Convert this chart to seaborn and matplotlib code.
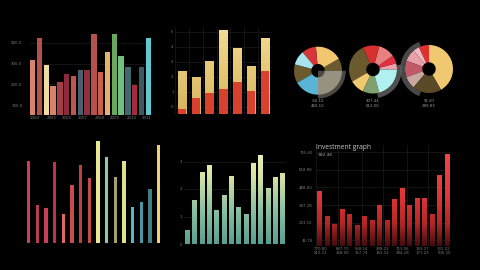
import numpy as np
import pandas as pd
import matplotlib
matplotlib.use("Agg")
import matplotlib.pyplot as plt
import seaborn as sns
from matplotlib.colors import LinearSegmentedColormap

sns.set_theme(style="dark", rc={"axes.facecolor": "black", "figure.facecolor": "black",
                                "savefig.facecolor": "black", "axes.grid": False})
plt.rcParams['font.family'] = ['DejaVu Sans']

# ---------------- data ----------------
# panel 1 (top-left)
p1_cats = [f"c{i:02d}" for i in range(18)]
p1_values = [318, 423, 294, 192, 213, 250, 242, 269, 269, 440, 260, 355, 440, 337, 285, 197, 285, 421]
p1_colors = ["#d9826a", "#b5514a", "#f0dca0", "#d9826a", "#a83c46", "#8e2a3e", "#c0564f", "#4a6070",
             "#90303e", "#b5514a", "#c8604a", "#e5b070", "#6aa860", "#70c080", "#3e6a6e", "#a8283e",
             "#3e5a60", "#60c8d0"]
p1_yticks = [100, 200, 300, 400]
p1_yticklabels = ["100.0", "200.0", "300.0", "400.0"]
p1_xtick_pos = [0.3, 2.8, 5.0, 7.4, 9.8, 12.1, 14.6, 16.7]
p1_xticklabels = ["2004", "2005", "2006", "2007", "2008", "2009", "2010", "2011"]

# panel 2 (top-middle, stacked)
p2_cats = [f"s{i}" for i in range(7)]
p2_total = [2.42, 1.98, 3.08, 5.13, 3.92, 2.71, 4.58]
p2_red = [-0.11, 0.57, 0.90, 1.17, 1.65, 1.06, 2.42]
p2_ticks = [0, 1, 2, 3, 4, 5]
p2_base = -0.47

# panel 3 (donuts)
d1_sizes = [30, 65, 35, 35, 45, 60, 90]
d1_colors = ["#6b5a2e", "#f2c66e", "#d8353a", "#a8e4ec", "#6b5a2e", "#5ab4d6", "#8a8474"]
d2_sizes = [15, 20, 40, 40, 95, 35, 40, 75]
d2_colors = ["#f0a0a8", "#e03040", "#e88080", "#d83030", "#6b5a2e", "#f0c870", "#80a070", "#b0f0f0"]
d3_sizes = [150, 25, 15, 30, 40, 30, 70]
d3_colors = ["#f0c870", "#e03030", "#f0b8c0", "#e8a0a8", "#c05a68", "#c8a8a0", "#5a4a28"]
d_highlight = [(-90, 90), (-80, 90), (110, 140)]   # (start angle, span) of highlighted arc
d_labels = [("-60.10", "460.10"), ("307.44", "612.00"), ("91.87", "289.83")]

# panel 4 (bottom-left thin bars)
p4_cats = [f"t{i:02d}" for i in range(16)]
p4_values = [247, 114, 106, 245, 88, 174, 235, 196, 307, 260, 200, 247, 109, 125, 162, 296]
p4_colors = ["#c8405a", "#b83c50", "#c84058", "#c03048", "#e06a5a", "#c84c4a", "#c04040", "#c84848",
             "#e8e890", "#90c8a0", "#a0a070", "#e0e088", "#50b8d0", "#4898a8", "#3e8080", "#f0d070"]

# panel 5 (bottom-middle gradient)
p5_cats = [f"g{i:02d}" for i in range(14)]
p5_values = [0.51, 1.60, 2.63, 2.87, 1.24, 1.77, 2.46, 1.33, 1.09, 2.96, 3.25, 2.05, 2.45, 2.58]
p5_ticks = [0, 1, 2, 3]

# panel 6 (investment graph)
p6_cats = [f"i{i:02d}" for i in range(18)]
p6_values = [3.09, 1.70, 1.21, 2.06, 1.79, 1.17, 1.68, 1.43, 2.32, 1.43, 2.62, 3.28, 2.30, 2.72,
             2.68, 1.79, 4.00, 5.19]
p6_yticklabels = ["46.78", "203.52", "347.28", "488.00", "618.80", "755.60"]
p6_xtick_pos = [0.1, 3.0, 5.6, 8.4, 11.1, 13.7, 16.6]
p6_xticklabels = ["770.80\n512.21", "687.70\n268.00", "558.54\n157.74", "308.21\n163.33",
                  "713.56\n384.28", "163.27\n171.23", "331.22\n506.30"]
p6_grid_x = [-0.57, 2.5, 5.7, 8.5, 11.7, 14.5, 17.5]
p6_title = "Investment graph"
p6_sub = "392.46"

# ---------------- figure ----------------
W, H = 480, 270
fig = plt.figure(figsize=(4.8, 2.7), dpi=100)
TICK_C = "#7a7a7a"
GRID_C = "#1c1c1c"
FS = 2.8
NOEDGE = dict(linewidth=0, edgecolor="none")


def add_ax(x0, y0, x1, y1):
    ax = fig.add_axes([x0 / W, 1 - y1 / H, (x1 - x0) / W, (y1 - y0) / H])
    ax.set_facecolor("none")
    for s in ax.spines.values():
        s.set_visible(False)
    ax.tick_params(colors=TICK_C, labelsize=FS, length=0, pad=1)
    return ax


def finish(ax):
    ax.set_xlabel("")
    ax.set_ylabel("")
    leg = ax.get_legend()
    if leg:
        leg.remove()


def gradient_bars(ax, cmap, ylim):
    grad = np.linspace(0, 1, 256).reshape(-1, 1)
    for p in list(ax.patches):
        x0 = p.get_x()
        w = p.get_width()
        im = ax.imshow(grad, cmap=cmap, origin="lower", aspect="auto",
                       extent=[x0, x0 + w, ylim[0], ylim[1]], zorder=2, interpolation="bilinear")
        im.set_clip_path(p)
        p.set_facecolor("none")


# ---- panel 1
ax1 = add_ax(29.3, 32, 151.7, 115)
df1 = pd.DataFrame({"c": p1_cats, "v": p1_values})
sns.barplot(data=df1, x="c", y="v", hue="c", palette=p1_colors, width=0.78, ax=ax1,
            legend=False, saturation=1, **NOEDGE)
ax1.set_xlim(-0.5, 17.5)
ax1.set_ylim(52, 452)
ax1.set_yticks(p1_yticks)
ax1.set_yticklabels(p1_yticklabels)
ax1.set_xticks(p1_xtick_pos)
ax1.set_xticklabels(p1_xticklabels)
ax1.yaxis.grid(True, color=GRID_C, linewidth=0.5)
ax1.set_axisbelow(True)
ax1.tick_params(axis="y", pad=5)
finish(ax1)

# ---- panel 2
ax2 = add_ax(175, 27, 272, 114)
df2 = pd.DataFrame({"c": p2_cats, "tot": [t - p2_base for t in p2_total],
                    "red": [r - p2_base for r in p2_red]})
sns.barplot(data=df2, x="c", y="tot", color="#e8cb7a", width=0.6, ax=ax2, saturation=1, **NOEDGE)
cmap2 = LinearSegmentedColormap.from_list("y2", ["#d6b45e", "#e6c874", "#f2dc96"])
gradient_bars(ax2, cmap2, (0, 5.8))
sns.barplot(data=df2, x="c", y="red", color="#d9412f", width=0.6, ax=ax2, saturation=1,
            zorder=4, **NOEDGE)
ax2.set_xlim(-0.375, 6.5)
ax2.set_ylim(0, 5.8)
ax2.set_yticks([t - p2_base for t in p2_ticks])
ax2.set_yticklabels([str(t) for t in p2_ticks])
ax2.set_xticks([i + 0.5 for i in range(-1, 7)], minor=True)
ax2.set_xticks([])
ax2.grid(True, which="minor", axis="x", color=GRID_C, linewidth=0.5)
ax2.yaxis.grid(True, color=GRID_C, linewidth=0.5)
ax2.set_axisbelow(True)
finish(ax2)

# ---- panel 3 donuts
centers = [(318, 70.7), (373, 69.5), (429, 69)]
R = 24
LIM = 1.35
donuts = [
    (d1_sizes, d1_colors, 0, (0.66, 0.64, 0.58, 0.45), 1.16, 1.16),
    (d2_sizes, d2_colors, 0, (0.42, 0.42, 0.42, 0.75), 1.2, 0.2),
    (d3_sizes, d3_colors, -60, (0.38, 0.38, 0.38, 0.75), 1.2, 0.2),
]
for (cx, cy), (sizes, cols, st, hcol, hr, hw), (hst, hspan), lab in zip(centers, donuts, d_highlight, d_labels):
    s = R * LIM
    axd = add_ax(cx - s, cy - s, cx + s, cy + s)
    axd.pie(sizes, colors=cols, startangle=st, counterclock=True, radius=1,
            wedgeprops=dict(width=0.72, linewidth=0))
    axd.pie([hspan, 360 - hspan], colors=[hcol, (0, 0, 0, 0)], startangle=hst, counterclock=True,
            radius=hr, wedgeprops=dict(width=hw, linewidth=0))
    axd.set_xlim(-LIM, LIM)
    axd.set_ylim(-LIM, LIM)
    axd.set_xticks([])
    axd.set_yticks([])
    fig.text(cx / W, 1 - 101 / H, lab[0], color="#9a9a9a", fontsize=FS, ha="center", va="center")
    fig.text(cx / W, 1 - 106 / H, lab[1], color="#9a9a9a", fontsize=FS, ha="center", va="center")

# ---- panel 4
ax4 = add_ax(24.4, 136.6, 163, 243.3)
df4 = pd.DataFrame({"c": p4_cats, "v": p4_values})
sns.barplot(data=df4, x="c", y="v", hue="c", palette=p4_colors, width=0.4, ax=ax4,
            legend=False, saturation=1, **NOEDGE)
ax4.set_xlim(-0.5, 15.5)
ax4.set_ylim(0, 320)
ax4.set_xticks([])
ax4.set_yticks([])
finish(ax4)

# ---- panel 5
ax5 = add_ax(183.6, 145, 286.4, 244)
df5 = pd.DataFrame({"c": p5_cats, "v": p5_values})
sns.barplot(data=df5, x="c", y="v", color="#a0c8a0", width=0.64, ax=ax5, saturation=1, **NOEDGE)
ax5.set_xlim(-0.5, 13.5)
ax5.set_ylim(0, 3.6)
cmap5 = LinearSegmentedColormap.from_list("g5", ["#5a9e92", "#88c0a2", "#d4e2a2", "#f6f2c4"])
gradient_bars(ax5, cmap5, (0, 3.6))
ax5.set_xlim(-0.5, 13.5)
ax5.set_ylim(0, 3.6)
ax5.set_yticks(p5_ticks)
ax5.set_yticklabels([str(t) for t in p5_ticks])
ax5.set_xticks([])
ax5.yaxis.grid(True, color=GRID_C, linewidth=0.5)
ax5.set_axisbelow(True)
finish(ax5)

# ---- panel 6
ax6 = add_ax(315.5, 145, 450.8, 245.7)
df6 = pd.DataFrame({"c": p6_cats, "v": p6_values})
sns.barplot(data=df6, x="c", y="v", color="#d03030", width=0.62, ax=ax6, saturation=1, **NOEDGE)
ax6.set_xlim(-0.5, 17.5)
ax6.set_ylim(0, 5.7)
cmap6 = LinearSegmentedColormap.from_list("r6", [(0, "#420c0c"), (0.22, "#b42626"),
                                                  (0.5, "#e23636"), (1, "#f44a4a")])
gradient_bars(ax6, cmap6, (0, 5.7))
ax6.set_xlim(-0.5, 17.5)
ax6.set_ylim(0, 5.7)
ax6.set_yticks([k + 0.3 for k in range(6)])
ax6.set_yticklabels(p6_yticklabels)
ax6.set_xticks(p6_xtick_pos)
ax6.set_xticklabels(p6_xticklabels, linespacing=1.1)
ax6.set_xticks(p6_grid_x, minor=True)
ax6.grid(True, which="minor", axis="x", color=GRID_C, linewidth=0.5)
ax6.yaxis.grid(True, color=GRID_C, linewidth=0.5)
ax6.set_axisbelow(True)
ax6.tick_params(axis="y", pad=2)
finish(ax6)
fig.text(316.5 / W, 1 - 147.5 / H, p6_title, color="#c8c8c8", fontsize=4.8,
         family=["Open Sans", "DejaVu Sans"], ha="left", va="center")
fig.text(318 / W, 1 - 154.5 / H, p6_sub, color="#b0b0b0", fontsize=3.2, ha="left", va="center")

fig.savefig("out.png", dpi=100, facecolor="black")
